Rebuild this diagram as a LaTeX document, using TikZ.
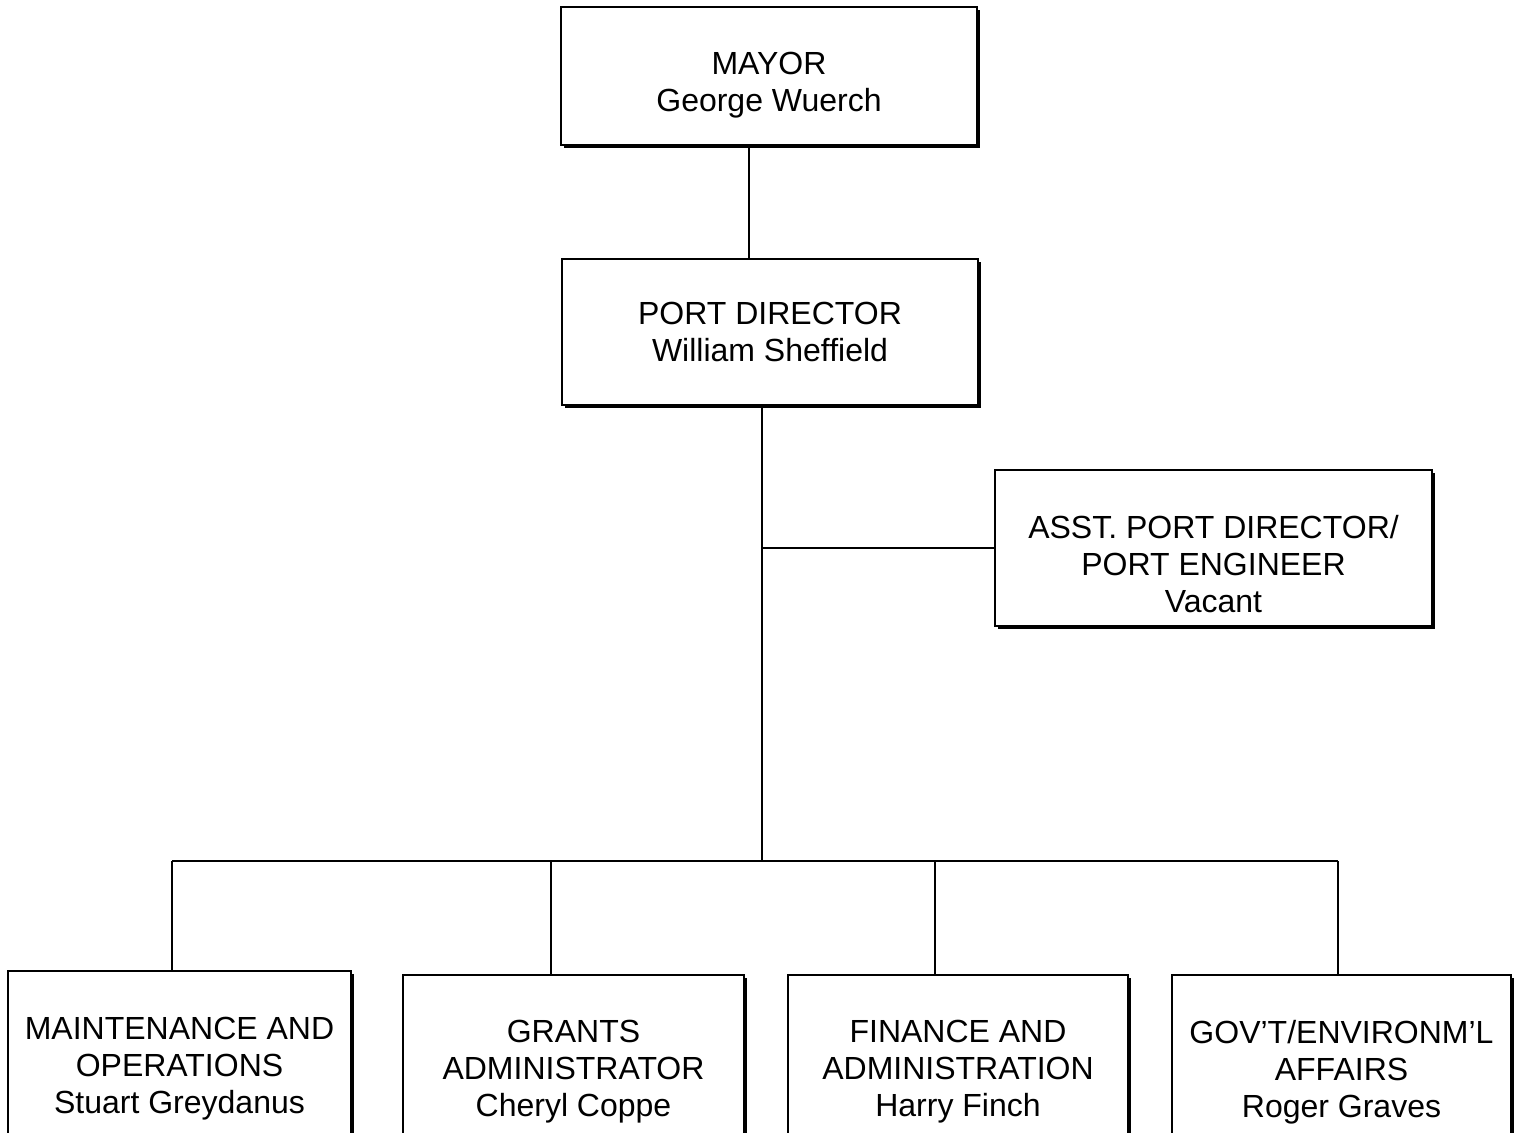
\documentclass[tikz,border=0pt]{standalone}
\usepackage{fontspec}
\setmainfont{Liberation Sans}
\usetikzlibrary{shadows}

\tikzset{
  post/.style={draw, line width=0.9pt, fill=white, align=center,
    font=\fontsize{16}{18.5}\selectfont,
    drop shadow={shadow xshift=1.3pt, shadow yshift=-1.3pt, fill=black, opacity=1}},
  txt/.style={align=center, inner sep=0pt, font=\fontsize{16}{18.5}\selectfont},
  link/.style={line width=0.9pt}
}

\begin{document}
\begin{tikzpicture}[x=0.5pt,y=-0.5pt]
	\useasboundingbox (0,0) rectangle (1522,1132);
	\clip (0,0) rectangle (1522,1132);
		% top of the chart
		\node[post, minimum width=208pt, minimum height=69pt] (mayor) at (769,76) {};
		\node[txt] (mayorname) at ([yshift=-4.5pt]mayor.center) {MAYOR\\George Wuerch};
		\node[post, minimum width=208pt, minimum height=73pt] (pd) at (770,332) {PORT DIRECTOR\\William Sheffield};
		\node[post, minimum width=218.5pt, minimum height=78pt] (asst) at (1213.5,548) {};
		\node[txt] (asstname) at ([yshift=-8pt]asst.center) {ASST. PORT DIRECTOR/\\PORT ENGINEER\\Vacant};
		% divisions
		\node[post, minimum width=171.5pt, minimum height=98pt] (maint) at (179.5,1069) {MAINTENANCE AND\\OPERATIONS\\Stuart Greydanus};
		\node[post, minimum width=170.5pt, minimum height=97pt] (grants) at (573.5,1072) {GRANTS\\ADMINISTRATOR\\Cheryl Coppe};
		\node[post, minimum width=170pt, minimum height=97pt] (finance) at (958,1072) {FINANCE AND\\ADMINISTRATION\\Harry Finch};
		\node[post, minimum width=169.5pt, minimum height=97pt] (govt) at (1341.5,1072) {GOV'T/ENVIRONM'L\\AFFAIRS\\Roger Graves};
		\coordinate (bus) at (762,861);
			\draw[link] ([xshift=-10pt]mayor.south) -- ([xshift=-10pt]mayor.south |- pd.north);
			\draw[link] ([xshift=-4pt]pd.south) -- (bus);
			\draw[link] (bus |- asst.west) -- (asst.west);
			\draw[link] ([xshift=-3.75pt]maint.north |- bus) -- ([xshift=-1.75pt]govt.north |- bus);
			\foreach \b/\dx in {maint/-3.75, grants/-11.25, finance/-11.5, govt/-1.75}
				\draw[link] ([xshift=\dx pt]\b.north) -- ([xshift=\dx pt]\b.north |- bus);
\end{tikzpicture}
\end{document}
